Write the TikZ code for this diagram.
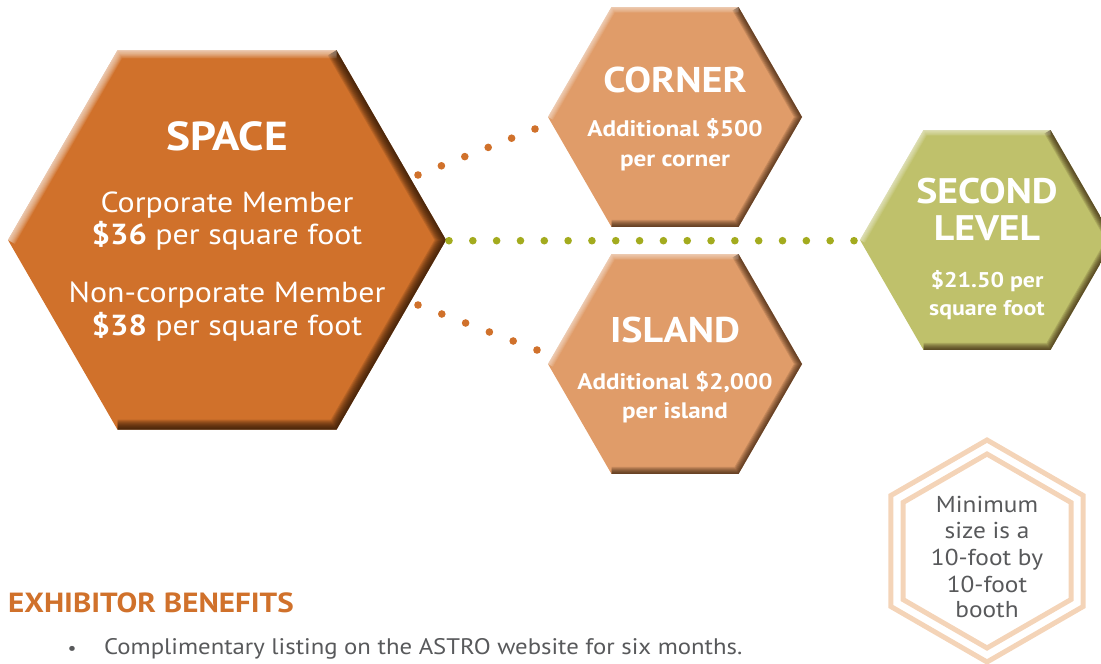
\documentclass[tikz,border=0pt]{standalone}
\usepackage{fontspec}
\setmainfont{PT Sans}[FakeStretch=1.1, BoldFeatures={FakeStretch=1.12}]
\usetikzlibrary{calc}
\definecolor{spaceor}{RGB}{208,113,43}
\definecolor{lightor}{RGB}{224,156,105}
\definecolor{olivefill}{RGB}{191,193,107}
\definecolor{darkbr}{RGB}{45,22,5}
\definecolor{dotor}{RGB}{208,113,43}
\definecolor{dotgr}{RGB}{163,171,30}
\definecolor{peach}{RGB}{244,212,184}
\definecolor{txtgray}{RGB}{88,89,91}

\newcommand\hexpts[3]{% name, R, start angle
  \foreach \k/\n in {0/a,1/b,2/c,3/d,4/e,5/f}{\coordinate (#1-\n) at ($(#1)+({#3+60*\k}:#2)$);}}

\newcommand\bevelhex[4]{% name, R, fill, steps
  \hexpts{#1}{#2}{0}
  \fill[#3] (#1-a)--(#1-b)--(#1-c)--(#1-d)--(#1-e)--(#1-f)--cycle;
  \begin{scope}
    \clip (#1-a)--(#1-b)--(#1-c)--(#1-d)--(#1-e)--(#1-f)--cycle;
    \foreach \w in {1,...,#4}{
      \draw[darkbr, opacity=0.14, line width={\w*2pt}, line join=miter] (#1-f)--(#1-a)--(#1-b)--(#1-c);
      \draw[white, opacity=0.09, line width={\w*1.6pt}, line join=miter] (#1-d)--(#1-e)--(#1-f);
    }
  \end{scope}}

\tikzset{
  hd/.style={font=\bfseries\fontsize{#1}{#1}\selectfont, text=white, anchor=base, inner sep=0pt},
  bd/.style={font=\fontsize{#1}{#1}\selectfont, text=white, anchor=base, inner sep=0pt},
  gtxt/.style={font=\fontsize{#1}{#1}\selectfont, text=txtgray, anchor=base, inner sep=0pt},
  dotconn/.style={fill=#1},
}

\begin{document}
\begin{tikzpicture}[x=1pt,y=-1pt]
\useasboundingbox (0,0) rectangle (1101,664);
\clip (0,0) rectangle (1101,664);

% hexagons
\coordinate (space) at (227,240);
\bevelhex{space}{219}{spaceor}{10}
\coordinate (corner) at (675,117);
\bevelhex{corner}{127}{lightor}{7}
\coordinate (island) at (675,364);
\bevelhex{island}{127}{lightor}{7}
\coordinate (second) at (987,240);
\bevelhex{second}{127}{olivefill}{7}

% minimum size hexagon (pointy top)
\coordinate (minhexO) at (987,551);
\hexpts{minhexO}{111}{30}
\coordinate (minhexI) at (987,551);
\hexpts{minhexI}{97}{30}
\draw[peach, line width=5pt, line join=miter] (minhexO-a)--(minhexO-b)--(minhexO-c)--(minhexO-d)--(minhexO-e)--(minhexO-f)--cycle;
\draw[peach, line width=5pt, line join=miter] (minhexI-a)--(minhexI-b)--(minhexI-c)--(minhexI-d)--(minhexI-e)--(minhexI-f)--cycle;

% dotted connectors
\coordinate (sc1) at (418,175); \coordinate (cc1) at (535,129);
\coordinate (si1) at (418,305); \coordinate (ic1) at (537,350);
\coordinate (sg1) at (449,240.7); \coordinate (gl1) at (854,240.7);
\foreach \i [evaluate=\i as \f using \i/5] in {0,...,5}{
  \fill[dotconn=dotor] ($(sc1)!\f!(cc1)$) circle (3.8pt);
  \fill[dotconn=dotor] ($(si1)!\f!(ic1)$) circle (3.8pt);
}
\foreach \i [evaluate=\i as \f using \i/17] in {0,...,17}{
  \fill[dotconn=dotgr] ($(sg1)!\f!(gl1)$) circle (3.8pt);
}

% SPACE text
\node[hd=40.5] (spaceT) at (227,150) {SPACE};
\node[bd=29] (corp) at (227,212) {Corporate Member};
\node[bd=29] (p36) at (227,244) {\textbf{\$36} per square foot};
\node[bd=29] (noncorp) at (227,302) {Non-corporate Member};
\node[bd=29] (p38) at (227,335) {\textbf{\$38} per square foot};

% CORNER text
\node[hd=35.8] (cornerT) at (675,92) {CORNER};
\node[hd=22.5] (cornerA) at (675,136) {Additional \$500};
\node[hd=22.5] (cornerB) at (675,166) {per corner};

% ISLAND text
\node[hd=35.7] (islandT) at (675,342) {ISLAND};
\node[hd=22.4] (islandA) at (675,389) {Additional \$2,000};
\node[hd=22.4] (islandB) at (675,418) {per island};

% SECOND LEVEL text
\node[hd=35.5] (secondT) at (987,203) {SECOND};
\node[hd=35.5] (levelT) at (987,240) {LEVEL};
\node[hd=21.3] (secondA) at (987,287) {\$21.50 per};
\node[hd=21.3] (secondB) at (987,315) {square foot};

% minimum text
\node[gtxt=23] (m1) at (987,512) {Minimum};
\node[gtxt=23] (m2) at (987,538) {size is a};
\node[gtxt=23] (m3) at (987,565) {10-foot by};
\node[gtxt=23] (m4) at (987,592) {10-foot};
\node[gtxt=23] (m5) at (987,617) {booth};

% exhibitor benefits
\node[font=\bfseries\fontsize{27.7}{27.7}\selectfont, text=spaceor, anchor=base west, inner sep=0pt] (exT) at (8,612) {EXHIBITOR BENEFITS};
\node[gtxt=18, anchor=base] (bul) at (72,654) {\textbullet};
\node[gtxt=22.5, anchor=base west] (ex1) at (104,654) {Complimentary listing on the ASTRO website for six months.};
\end{tikzpicture}
\end{document}
